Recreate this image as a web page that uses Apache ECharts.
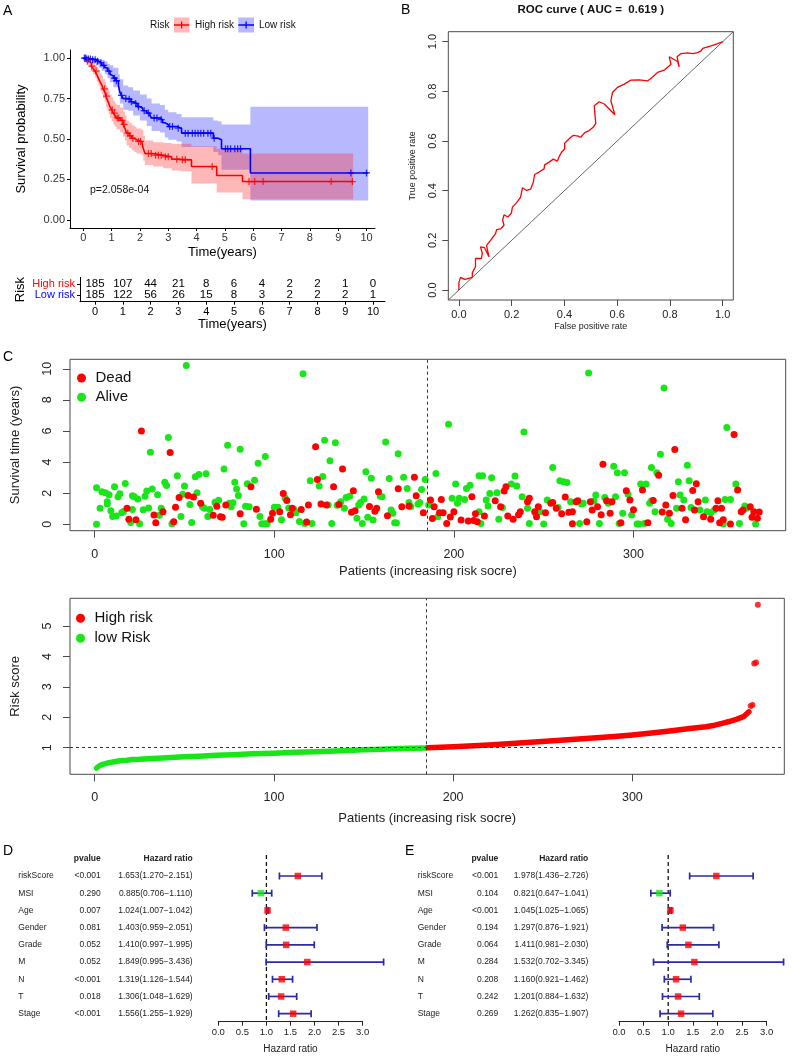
<!DOCTYPE html>
<html><head><meta charset="utf-8">
<script src="https://cdn.jsdelivr.net/npm/echarts@6/dist/echarts.min.js"></script>
<style>html,body{margin:0;padding:0;background:#fff}#c{width:793px;height:1059px}</style>
</head><body><div id="c"></div>
<script>
// ---------------- DATA ----------------
// Panel A: Kaplan-Meier steps [time, survival]
const kmLowSteps = [[0,1],[0.1,0.995],[0.3,0.99],[0.45,0.98],[0.55,0.97],[0.65,0.955],[0.76,0.94],[0.85,0.92],[0.94,0.90],[1.0,0.89],[1.06,0.876],[1.15,0.86],[1.24,0.83],[1.29,0.79],[1.35,0.77],[1.41,0.75],[1.59,0.746],[1.68,0.73],[1.76,0.72],[1.9,0.70],[2.0,0.69],[2.1,0.675],[2.24,0.66],[2.35,0.645],[2.41,0.63],[2.71,0.62],[2.8,0.60],[2.88,0.59],[3.0,0.577],[3.29,0.567],[3.47,0.536],[4.59,0.505],[4.76,0.495],[4.88,0.44],[5.9,0.29],[10.06,0.29]];
const kmHighSteps = [[0,1],[0.06,0.99],[0.12,0.98],[0.2,0.97],[0.28,0.95],[0.35,0.935],[0.41,0.92],[0.47,0.9],[0.53,0.876],[0.59,0.855],[0.65,0.835],[0.7,0.81],[0.76,0.79],[0.8,0.765],[0.85,0.74],[0.9,0.72],[0.94,0.70],[1.0,0.68],[1.06,0.66],[1.12,0.645],[1.18,0.63],[1.3,0.615],[1.4,0.59],[1.47,0.567],[1.53,0.536],[1.62,0.52],[1.71,0.505],[1.8,0.495],[1.88,0.485],[2.06,0.474],[2.12,0.44],[2.18,0.41],[2.47,0.40],[2.82,0.39],[3.12,0.375],[3.41,0.371],[3.82,0.33],[4.71,0.274],[5.62,0.237],[9.53,0.237]];
// confidence bands [time, lower, upper]
const kmLowBand = [[0,1,1],[0.1,0.985,1],[0.3,0.97,1],[0.45,0.955,1],[0.55,0.94,0.995],[0.65,0.92,0.99],[0.76,0.9,0.98],[0.85,0.875,0.965],[0.94,0.85,0.955],[1.06,0.82,0.94],[1.24,0.77,0.9],[1.29,0.72,0.87],[1.41,0.68,0.83],[1.59,0.675,0.82],[1.76,0.645,0.8],[2.0,0.615,0.775],[2.24,0.58,0.75],[2.41,0.55,0.72],[2.71,0.54,0.71],[2.88,0.51,0.68],[3.0,0.495,0.665],[3.29,0.485,0.655],[3.47,0.45,0.635],[4.59,0.42,0.615],[4.76,0.40,0.61],[4.88,0.31,0.59],[5.9,0.12,0.70],[10.06,0.12,0.70]];
const kmHighBand = [[0,1,1],[0.06,0.975,1],[0.12,0.96,0.995],[0.2,0.945,0.99],[0.28,0.92,0.98],[0.35,0.9,0.97],[0.41,0.88,0.96],[0.47,0.855,0.945],[0.53,0.83,0.925],[0.59,0.8,0.905],[0.65,0.78,0.89],[0.7,0.75,0.87],[0.76,0.73,0.85],[0.8,0.7,0.83],[0.85,0.675,0.81],[0.9,0.655,0.79],[0.94,0.63,0.775],[1.0,0.61,0.755],[1.06,0.59,0.735],[1.12,0.575,0.72],[1.18,0.56,0.71],[1.3,0.54,0.695],[1.4,0.515,0.67],[1.47,0.49,0.645],[1.53,0.46,0.615],[1.62,0.445,0.6],[1.71,0.43,0.585],[1.8,0.42,0.575],[1.88,0.41,0.565],[2.06,0.4,0.555],[2.12,0.365,0.52],[2.18,0.34,0.49],[2.47,0.33,0.48],[2.82,0.32,0.475],[3.12,0.305,0.47],[3.41,0.30,0.47],[3.82,0.225,0.455],[4.71,0.17,0.44],[5.62,0.128,0.41],[9.53,0.128,0.41]];
const kmLowCensor = [0.04,0.08,0.12,0.18,0.25,0.33,0.42,0.5,0.62,0.72,0.9,1.1,1.17,1.35,1.5,1.62,1.7,1.85,1.95,2.15,2.3,2.5,2.6,2.75,3.05,3.15,3.35,3.6,3.7,3.85,3.95,4.05,4.15,4.25,4.4,4.5,4.62,5.02,5.1,5.2,5.35,5.45,5.55,9.45,10.0];
const kmHighCensor = [0.15,0.3,0.45,0.75,0.82,1.02,1.1,1.2,1.25,1.37,1.44,1.57,1.65,1.75,1.95,2.02,2.3,2.4,2.55,2.65,2.75,2.9,3.0,3.3,3.5,3.6,4.55,5.85,6.05,6.35,8.75,9.5];
const kmPValue = 'p=2.058e-04';
const timeTicks = [0,1,2,3,4,5,6,7,8,9,10];
const atRiskHigh = [185,107,44,21,8,6,4,2,2,1,0];
const atRiskLow  = [185,122,56,26,15,8,3,2,2,2,1];
const survTicks = [0,0.25,0.5,0.75,1];

// Panel B: ROC curve points [FPR, TPR]
const rocAUC = '0.619';
const rocPoints = [[0,0],[0,0.029],[0.006,0.051],[0.022,0.043],[0.025,0.051],[0.051,0.051],[0.051,0.07],[0.063,0.094],[0.063,0.127],[0.085,0.127],[0.089,0.147],[0.082,0.174],[0.097,0.171],[0.114,0.134],[0.105,0.18],[0.12,0.2],[0.139,0.227],[0.143,0.243],[0.158,0.246],[0.171,0.261],[0.166,0.281],[0.171,0.303],[0.186,0.294],[0.199,0.31],[0.203,0.334],[0.219,0.352],[0.234,0.374],[0.241,0.412],[0.257,0.401],[0.272,0.406],[0.282,0.434],[0.287,0.465],[0.304,0.475],[0.323,0.488],[0.325,0.504],[0.342,0.515],[0.358,0.527],[0.373,0.519],[0.38,0.537],[0.389,0.555],[0.401,0.568],[0.401,0.591],[0.42,0.611],[0.434,0.623],[0.452,0.62],[0.462,0.615],[0.477,0.634],[0.494,0.642],[0.509,0.655],[0.519,0.671],[0.516,0.702],[0.513,0.742],[0.532,0.758],[0.551,0.749],[0.591,0.706],[0.576,0.762],[0.582,0.795],[0.601,0.816],[0.627,0.829],[0.652,0.845],[0.684,0.846],[0.715,0.842],[0.734,0.858],[0.753,0.876],[0.778,0.885],[0.804,0.909],[0.797,0.939],[0.829,0.92],[0.835,0.898],[0.827,0.939],[0.842,0.952],[0.867,0.955],[0.886,0.952],[0.905,0.956],[0.918,0.963],[0.924,0.973],[0.956,0.983],[0.981,0.992],[1,1]];
const unitTicks = [0,0.2,0.4,0.6,0.8,1];

// Panel C (top): [patient index, survival time (years)]
const deadPts = [[18,1.03],[19,0.32],[23,0.3],[26,6.0],[33,0.6],[34,0.11],[38,0.81],[42,4.62],[44,0.17],[45,1.1],[47,1.73],[52,1.86],[55,1.75],[59,1.35],[66,0.58],[68,1.16],[70,0.49],[71,0.45],[73,1.24],[81,0.68],[87,2.41],[90,0.97],[98,0.33],[99,0.72],[103,0.81],[105,1.99],[107,1.54],[109,0.62],[110,1.03],[115,0.95],[118,0.15],[119,1.24],[123,4.98],[124,2.88],[126,1.3],[129,1.24],[133,2.41],[136,1.27],[138,3.55],[143,0.77],[144,2.16],[145,0.88],[153,1.15],[156,0.85],[157,1.03],[158,2.09],[163,0.55],[169,2.29],[171,1.13],[175,1.18],[178,3.03],[179,1.84],[183,0.75],[187,1.56],[188,0.38],[189,1.13],[192,0.75],[193,1.6],[194,0.75],[196,0.06],[198,0.47],[200,0.81],[204,0.28],[208,0.22],[210,1.77],[211,0.24],[212,0.68],[213,0.17],[217,0.53],[223,1.52],[226,1.13],[228,2.14],[229,2.41],[230,0.53],[233,0.32],[236,0.62],[237,0.81],[241,1.45],[242,1.67],[245,0.81],[246,0.49],[247,1.13],[251,0.75],[254,1.35],[255,1.4],[257,1.03],[260,0.68],[262,1.75],[264,0.77],[266,0.81],[266,0.04],[268,1.45],[269,1.52],[274,0.17],[276,1.45],[277,0.92],[280,1.13],[282,0.62],[283,3.86],[285,1.52],[287,0.71],[288,1.45],[293,0.11],[296,2.16],[298,1.56],[300,0.94],[305,2.2],[308,0.11],[311,1.54],[314,3.16],[316,0.79],[318,1.24],[320,0.71],[322,1.86],[323,4.81],[327,1.03],[329,0.3],[333,2.18],[334,0.92],[335,2.61],[336,1.45],[339,0.49],[343,0.32],[346,1.03],[347,1.52],[348,0.11],[349,1.03],[350,0.3],[354,0.02],[356,5.77],[358,2.2],[360,0.81],[361,0.92],[365,1.13],[366,0.45],[367,0.81],[369,0.4],[370,0.79]];
const alivePts = [[1,0.0],[1,2.35],[3,1.03],[4,2.09],[6,2.03],[7,1.3],[7,1.45],[8,1.9],[9,0.88],[10,0.51],[11,2.41],[12,0.53],[13,1.77],[14,1.97],[15,0.75],[16,0.83],[17,2.63],[20,0.12],[21,0.96],[21,1.84],[22,1.77],[24,1.63],[25,0.04],[27,0.94],[28,1.8],[29,2.15],[30,1.05],[31,4.64],[32,2.27],[35,1.9],[36,0.58],[37,1.03],[39,2.71],[40,2.5],[41,5.58],[43,0.04],[46,3.12],[48,0.51],[49,1.94],[50,2.47],[51,10.21],[53,1.28],[54,0.12],[56,3.06],[57,2.03],[58,3.2],[60,1.13],[61,1.03],[62,3.25],[63,0.5],[64,0.96],[67,1.42],[69,1.55],[72,3.55],[74,5.09],[75,1.35],[76,1.13],[77,1.39],[78,2.7],[79,2.27],[80,1.86],[81,4.82],[83,0.04],[84,1.16],[85,2.61],[86,1.13],[89,2.84],[91,3.93],[92,0.51],[93,0.04],[95,4.36],[95,0.04],[96,0.04],[100,1.1],[102,1.1],[104,0.3],[106,1.7],[108,1.05],[111,0.96],[112,0.75],[114,0.18],[116,9.68],[117,0.06],[120,2.8],[121,0.06],[125,2.46],[127,3.08],[128,5.41],[130,1.24],[131,4.08],[132,0.06],[134,5.25],[135,1.22],[137,1.45],[139,1.03],[140,1.72],[142,1.8],[146,0.4],[147,1.24],[148,1.4],[149,0.06],[150,1.63],[151,3.38],[152,0.45],[154,2.97],[155,0.28],[159,1.8],[160,1.77],[162,5.3],[164,2.95],[165,0.92],[166,0.71],[167,0.11],[168,0.09],[169,4.53],[172,3.03],[174,2.31],[175,1.41],[176,1.13],[180,1.3],[181,1.41],[182,2.24],[184,2.88],[186,1.24],[190,3.27],[191,0.49],[197,6.43],[199,1.67],[201,2.59],[202,1.35],[203,1.67],[206,1.6],[207,2.31],[209,2.52],[214,0.81],[214,3.12],[215,0.06],[216,3.12],[218,1.56],[219,1.18],[220,1.99],[221,2.99],[224,2.03],[225,0.32],[227,1.09],[232,2.59],[234,3.1],[235,2.46],[238,1.77],[239,5.94],[241,1.03],[242,0.06],[248,0.81],[250,0.02],[252,1.56],[255,3.65],[258,1.09],[259,2.8],[261,2.74],[263,2.69],[265,1.45],[270,0.06],[271,1.3],[272,1.35],[275,9.72],[278,1.5],[279,1.88],[281,0.06],[284,1.73],[286,1.35],[289,3.74],[290,1.77],[291,3.31],[292,0.06],[294,0.71],[295,3.31],[297,1.94],[299,0.6],[302,0.02],[303,0.02],[304,2.59],[306,0.06],[307,2.59],[309,1.35],[310,3.65],[310,1.52],[312,0.81],[313,3.31],[315,4.51],[317,8.76],[319,0.32],[321,0.06],[324,1.03],[325,2.74],[326,1.88],[328,1.56],[330,3.8],[331,2.8],[332,1.09],[337,0.92],[340,1.56],[341,0.81],[343,0.75],[345,0.92],[350,0.02],[351,1.6],[352,6.22],[354,1.6],[357,2.59],[359,0.06],[362,1.18],[363,1.03],[368,0.02]];
const patientTicks = [0,100,200,300];
const survTimeTicks = [0,2,4,6,8,10];

// Panel C (bottom): risk score by patient index
const lowRiskCurve = [[1,0.33],[2,0.38],[3,0.42],[5,0.46],[8,0.51],[11,0.54],[14,0.57],[18,0.59],[21,0.61],[25,0.62],[30,0.64],[40,0.67],[50,0.70],[58,0.72],[68,0.75],[77,0.77],[88,0.80],[100,0.82],[112,0.85],[123,0.87],[135,0.89],[150,0.93],[160,0.95],[170,0.97],[178,0.98],[185,0.99]];
const highRiskCurve = [[186,1.0],[200,1.03],[220,1.09],[239,1.16],[258,1.24],[276,1.31],[290,1.37],[300,1.42],[312,1.49],[322,1.56],[332,1.63],[341,1.69],[346,1.74],[350,1.80],[354,1.86],[358,1.93],[362,2.02],[363,2.08],[365,2.18]];
const highRiskTail = [[366,2.37],[367,2.40],[368,3.77],[369,3.80],[370,5.70]];
const riskCutIndex = 185;
const riskCutScore = 1;
const riskTicks = [1,2,3,4,5];

// Panels D/E: forest plots
const forestVars = ['riskScore','MSI','Age','Gender','Grade','M','N','T','Stage'];
const uniP    = ['<0.001','0.290','0.007','0.081','0.052','0.052','<0.001','0.018','<0.001'];
const uniHR   = [1.653,0.885,1.024,1.403,1.410,1.849,1.319,1.306,1.556];
const uniLow  = [1.270,0.706,1.007,0.959,0.997,0.995,1.126,1.048,1.255];
const uniHigh = [2.151,1.110,1.042,2.051,1.995,3.436,1.544,1.629,1.929];
const multiP    = ['<0.001','0.104','<0.001','0.194','0.064','0.284','0.208','0.242','0.269'];
const multiHR   = [1.978,0.821,1.045,1.297,1.411,1.532,1.160,1.201,1.262];
const multiLow  = [1.436,0.647,1.025,0.876,0.981,0.702,0.921,0.884,0.835];
const multiHigh = [2.726,1.041,1.065,1.921,2.030,3.345,1.462,1.632,1.907];

// ---------------- STYLE ----------------
const FONT = '"Liberation Sans", Arial, Helvetica, sans-serif';
const RED = '#ff0000', BLUE = '#0000ff', GREEN = '#19e619', EBAR = '#2b2ba6', BOX = '#4a4a4a';

function stepAt(steps, t) { let s = steps[0][1]; for (const p of steps) { if (p[0] <= t) s = p[1]; else break; } return s; }

function bandSeries(band, fill) {
  return {
    type: 'custom', xAxisIndex: 0, yAxisIndex: 0, silent: true, z: 1, data: [[0, 0]],
    renderItem: function (params, api) {
      const up = [], lo = [];
      for (let i = 0; i < band.length - 1; i++) {
        const t0 = band[i][0], t1 = band[i + 1][0];
        up.push(api.coord([t0, band[i][2]]), api.coord([t1, band[i][2]]));
        lo.push(api.coord([t0, band[i][1]]), api.coord([t1, band[i][1]]));
      }
      return { type: 'polygon', shape: { points: up.concat(lo.reverse()) }, style: { fill: fill } };
    }
  };
}

const PLUS = 'path://M-1,-0.18L1,-0.18L1,0.18L-1,0.18Z M-0.18,-1L0.18,-1L0.18,1L-0.18,1Z';

function hiddenAxis(gi, min, max, inverse) {
  return { type: 'value', gridIndex: gi, min: min, max: max, show: false, inverse: !!inverse, splitLine: { show: false } };
}

function boxAxisX(gi, min, max, ticks, fmt, fs, margin, tickLen, name, nameGap, nameFs) {
  return {
    type: 'value', gridIndex: gi, min: min, max: max, splitLine: { show: false },
    axisLine: { show: false, onZero: false },
    axisTick: { show: true, customValues: ticks, length: tickLen, lineStyle: { color: BOX, width: 1 } },
    axisLabel: { customValues: ticks, formatter: fmt, fontSize: fs, color: '#222', margin: margin, fontFamily: FONT },
    name: name, nameLocation: 'middle', nameGap: nameGap, nameTextStyle: { fontSize: nameFs, color: '#222', fontFamily: FONT }
  };
}
function boxAxisY(gi, min, max, ticks, fmt, fs, margin, tickLen, name, nameGap, nameFs) {
  const a = boxAxisX(gi, min, max, ticks, fmt, fs, margin, tickLen, name, nameGap, nameFs);
  a.axisLabel.rotate = 90;
  a.nameRotate = 90;
  return a;
}

function forestAxis(gi) {
  return {
    type: 'value', gridIndex: gi, min: 0, max: 3, interval: 0.5, splitLine: { show: false },
    axisLine: { show: true, onZero: false, lineStyle: { color: '#222', width: 1 } },
    axisTick: { show: true, length: 4, lineStyle: { color: '#222' } },
    axisLabel: { formatter: v => v.toFixed(1), fontSize: 9.5, color: '#222', margin: 5.5, fontFamily: FONT, showMinLabel: true, showMaxLabel: true },
    name: 'Hazard ratio', nameLocation: 'middle', nameGap: 23, nameTextStyle: { fontSize: 10, color: '#222', fontFamily: FONT }
  };
}

function forestSeries(gData, gText, pv, hr, lo, hi) {
  const rows = forestVars.map((v, i) => [i, lo[i], hi[i]]);
  return [
    { type: 'line', xAxisIndex: gData, yAxisIndex: gData, data: [[1, -1.22], [1, 8.37]], showSymbol: false, silent: true,
      lineStyle: { color: '#111', width: 1.3, type: [4, 3] }, z: 2 },
    { type: 'custom', xAxisIndex: gData, yAxisIndex: gData, data: rows, silent: true, z: 3,
      renderItem: function (params, api) {
        const r = api.value(0);
        const a = api.coord([api.value(1), r]), b = api.coord([api.value(2), r]);
        const h = 3.5, st = { stroke: EBAR, lineWidth: 1.7 };
        return { type: 'group', children: [
          { type: 'line', shape: { x1: a[0], y1: a[1], x2: b[0], y2: b[1] }, style: st },
          { type: 'line', shape: { x1: a[0], y1: a[1] - h, x2: a[0], y2: a[1] + h }, style: st },
          { type: 'line', shape: { x1: b[0], y1: b[1] - h, x2: b[0], y2: b[1] + h }, style: st }
        ] };
      } },
    { type: 'scatter', xAxisIndex: gData, yAxisIndex: gData, symbol: 'rect', symbolSize: 6.5, silent: true, z: 4,
      data: hr.map((h, i) => ({ value: [h, i], itemStyle: { color: h < 1 ? GREEN : RED } })) },
    { type: 'custom', xAxisIndex: gText, yAxisIndex: gText, silent: true,
      data: [[-1]].concat(forestVars.map((v, i) => [i])),
      renderItem: function (params, api) {
        const r = api.value(0);
        const p0 = api.coord([0, r]), p1 = api.coord([0.945, r]), p2 = api.coord([2, r]);
        const base = { fontSize: 8.5, fontFamily: FONT, verticalAlign: 'middle', fill: '#222' };
        if (r < 0) {
          return { type: 'group', children: [
            { type: 'text', x: p1[0], y: p1[1], style: Object.assign({}, base, { text: 'pvalue', align: 'right', fontWeight: 'bold' }) },
            { type: 'text', x: p2[0], y: p2[1], style: Object.assign({}, base, { text: 'Hazard ratio', align: 'right', fontWeight: 'bold' }) }
          ] };
        }
        const hrText = hr[r].toFixed(3) + '(' + lo[r].toFixed(3) + '\u2212' + hi[r].toFixed(3) + ')';
        return { type: 'group', children: [
          { type: 'text', x: p0[0], y: p0[1], style: Object.assign({}, base, { text: forestVars[r], align: 'left' }) },
          { type: 'text', x: p1[0], y: p1[1], style: Object.assign({}, base, { text: pv[r], align: 'right' }) },
          { type: 'text', x: p2[0], y: p2[1], style: Object.assign({}, base, { text: hrText, align: 'right' }) }
        ] };
      } }
  ];
}

// ---------------- OPTION ----------------
const gridBase = { outerBoundsMode: 'none', containLabel: false };
const grids = [
  { left: 70, top: 50, width: 305, height: 178 },
  { left: 80, top: 277.4, width: 305, height: 24.3 },
  { left: 448.3, top: 31.7, width: 285, height: 268.3, show: true, borderColor: BOX, borderWidth: 1, backgroundColor: 'transparent' },
  { left: 70, top: 359.3, width: 715.7, height: 171.4, show: true, borderColor: BOX, borderWidth: 1, backgroundColor: 'transparent' },
  { left: 70, top: 598.3, width: 714.3, height: 176, show: true, borderColor: BOX, borderWidth: 1, backgroundColor: 'transparent' },
  { left: 218.3, top: 853.6, width: 168.4, height: 168.7 },
  { left: 218.3, top: 1000, width: 144.3, height: 21.7 },
  { left: 18.3, top: 853.6, width: 174.4, height: 168.7 },
  { left: 619, top: 853.6, width: 172.2, height: 168.7 },
  { left: 619, top: 1000, width: 147.6, height: 21.7 },
  { left: 417.7, top: 853.6, width: 170.6, height: 168.7 }
].map(g => Object.assign({}, gridBase, g));

const kmX = {
  type: 'value', gridIndex: 0, min: -0.47, max: 10.3, splitLine: { show: false },
  axisLine: { show: true, onZero: false, lineStyle: { color: '#000', width: 1 } },
  axisTick: { show: true, customValues: timeTicks, length: 3, lineStyle: { color: '#000' } },
  axisLabel: { customValues: timeTicks, fontSize: 11, color: '#333', margin: 4.5, fontFamily: FONT },
  name: 'Time(years)', nameLocation: 'middle', nameGap: 18, nameTextStyle: { fontSize: 13, color: '#000', fontFamily: FONT }
};
const kmY = {
  type: 'value', gridIndex: 0, min: -0.05, max: 1.05, splitLine: { show: false },
  axisLine: { show: true, onZero: false, lineStyle: { color: '#000', width: 1 } },
  axisTick: { show: true, customValues: survTicks, length: 3, lineStyle: { color: '#000' } },
  axisLabel: { customValues: survTicks, formatter: v => v.toFixed(2), fontSize: 11, color: '#333', margin: 5, fontFamily: FONT },
  name: 'Survival probability', nameLocation: 'middle', nameRotate: 90, nameGap: 42, nameTextStyle: { fontSize: 13, color: '#000', fontFamily: FONT }
};
const tabX = Object.assign({}, kmX, { gridIndex: 1, min: -0.54, max: 10.43,
  axisLabel: { customValues: timeTicks, fontSize: 11, color: '#000', margin: 4.5, fontFamily: FONT }, nameGap: 16.5 });
const tabY = {
  type: 'value', gridIndex: 1, min: 0.4, max: 2.6, splitLine: { show: false },
  axisLine: { show: true, onZero: false, lineStyle: { color: '#000', width: 1 } },
  axisTick: { show: true, customValues: [1, 2], length: 3, lineStyle: { color: '#000' } },
  axisLabel: { customValues: [1, 2], margin: 5, fontFamily: FONT,
    formatter: v => v === 2 ? '{h|High risk}' : '{l|Low risk}',
    rich: { h: { color: RED, fontSize: 11, fontFamily: FONT }, l: { color: BLUE, fontSize: 11, fontFamily: FONT } } },
  name: 'Risk', nameLocation: 'middle', nameRotate: 90, nameGap: 53, nameTextStyle: { fontSize: 13, color: '#000', fontFamily: FONT }
};

const tableData = [];
timeTicks.forEach((t, i) => { tableData.push([t, 2, atRiskHigh[i]]); tableData.push([t, 1, atRiskLow[i]]); });

const fmt1 = v => v.toFixed(1);
const fmt0 = v => String(v);

const xAxes = [
  kmX, tabX,
  boxAxisX(2, -0.04, 1.04, unitTicks, fmt1, 11, 9, 6, 'False positive rate', 22, 9),
  boxAxisX(3, -13.76, 384.76, patientTicks, fmt0, 12.5, 17, 7, 'Patients (increasing risk socre)', 34, 13),
  boxAxisX(4, -13.76, 384.76, patientTicks, fmt0, 12.5, 17, 7, 'Patients (increasing risk socre)', 38, 13),
  hiddenAxis(5, 0, 3.5), forestAxis(6), hiddenAxis(7, 0, 2),
  hiddenAxis(8, 0, 3.5), forestAxis(9), hiddenAxis(10, 0, 2)
];
const yAxes = [
  kmY, tabY,
  boxAxisY(2, -0.04, 1.04, unitTicks, fmt1, 11, 10, 6, 'True positive rate', 31, 9),
  boxAxisY(3, -0.408, 10.608, survTimeTicks, fmt0, 12.5, 16, 7, 'Survival time (years)', 48, 13),
  boxAxisY(4, 0.126, 5.91, riskTicks, fmt0, 12.5, 16, 7, 'Risk score', 48, 13),
  hiddenAxis(5, -1.3, 8.5, true), hiddenAxis(6, 0, 1), hiddenAxis(7, -1.3, 8.5, true),
  hiddenAxis(8, -1.3, 8.5, true), hiddenAxis(9, 0, 1), hiddenAxis(10, -1.3, 8.5, true)
];

const dashLine = { color: '#333', width: 1, type: [3, 3] };

const series = [
  bandSeries(kmLowBand, 'rgba(40,40,255,0.33)'),
  bandSeries(kmHighBand, 'rgba(255,40,40,0.33)'),
  { name: 'kmLow', type: 'line', step: 'end', xAxisIndex: 0, yAxisIndex: 0, data: kmLowSteps, showSymbol: false, silent: true, z: 3,
    lineStyle: { color: BLUE, width: 1.6 }, itemStyle: { color: BLUE } },
  { name: 'kmHigh', type: 'line', step: 'end', xAxisIndex: 0, yAxisIndex: 0, data: kmHighSteps, showSymbol: false, silent: true, z: 3,
    lineStyle: { color: RED, width: 1.6 }, itemStyle: { color: RED } },
  { name: 'kmLowC', type: 'scatter', xAxisIndex: 0, yAxisIndex: 0, symbol: PLUS, symbolSize: 7, silent: true, z: 4,
    itemStyle: { color: BLUE }, data: kmLowCensor.map(t => [t, stepAt(kmLowSteps, t)]) },
  { name: 'kmHighC', type: 'scatter', xAxisIndex: 0, yAxisIndex: 0, symbol: PLUS, symbolSize: 7, silent: true, z: 4,
    itemStyle: { color: RED }, data: kmHighCensor.map(t => [t, stepAt(kmHighSteps, t)]) },
  { type: 'custom', xAxisIndex: 1, yAxisIndex: 1, silent: true, data: tableData,
    renderItem: function (params, api) {
      const p = api.coord([api.value(0), api.value(1)]);
      return { type: 'text', x: p[0], y: p[1], style: { text: String(api.value(2)), fill: '#000', fontSize: 11.5, fontFamily: FONT, align: 'center', verticalAlign: 'middle' } };
    } },
  { type: 'line', xAxisIndex: 2, yAxisIndex: 2, data: [[-0.04, -0.04], [1.04, 1.04]], showSymbol: false, silent: true,
    lineStyle: { color: '#555', width: 0.9 } },
  { type: 'line', xAxisIndex: 2, yAxisIndex: 2, data: rocPoints, showSymbol: false, silent: true, z: 3,
    lineStyle: { color: RED, width: 1.3 } },
  { name: 'Alive', type: 'scatter', xAxisIndex: 3, yAxisIndex: 3, data: alivePts, symbolSize: 7, silent: true,
    itemStyle: { color: GREEN, opacity: 1 } },
  { name: 'Dead', type: 'scatter', xAxisIndex: 3, yAxisIndex: 3, data: deadPts, symbolSize: 7, silent: true,
    itemStyle: { color: RED, opacity: 1 },
    markLine: { silent: true, symbol: 'none', label: { show: false }, lineStyle: dashLine, data: [{ xAxis: riskCutIndex }] } },
  { name: 'low Risk', type: 'line', xAxisIndex: 4, yAxisIndex: 4, data: lowRiskCurve, showSymbol: false, silent: true,
    lineStyle: { color: GREEN, width: 5.5, cap: 'round', join: 'round' }, itemStyle: { color: GREEN },
    markLine: { silent: true, symbol: 'none', label: { show: false }, lineStyle: dashLine, data: [{ xAxis: riskCutIndex }, { yAxis: riskCutScore }] } },
  { name: 'High risk', type: 'line', xAxisIndex: 4, yAxisIndex: 4, data: highRiskCurve, showSymbol: false, silent: true,
    lineStyle: { color: RED, width: 5.5, cap: 'round', join: 'round' }, itemStyle: { color: RED } },
  { name: 'High risk', type: 'scatter', xAxisIndex: 4, yAxisIndex: 4, data: highRiskTail, symbolSize: 6, silent: true,
    itemStyle: { color: RED } },
  { type: 'scatter', xAxisIndex: 6, yAxisIndex: 6, data: [] },
  { type: 'scatter', xAxisIndex: 9, yAxisIndex: 9, data: [] }
].concat(forestSeries(5, 7, uniP, uniHR, uniLow, uniHigh))
 .concat(forestSeries(8, 10, multiP, multiHR, multiLow, multiHigh));

const legendText = { fontSize: 15, lineHeight: 15, color: '#111', fontFamily: FONT };
const option = {
  animation: false,
  backgroundColor: '#ffffff',
  textStyle: { fontFamily: FONT },
  grid: grids, xAxis: xAxes, yAxis: yAxes, series: series,
  legend: [
    { data: [{ name: 'Dead', itemStyle: { color: RED } }, { name: 'Alive', itemStyle: { color: GREEN } }], orient: 'vertical', left: 77, top: 370.5,
      itemWidth: 18, itemHeight: 9, itemGap: 4.3, icon: 'circle', selectedMode: false, padding: 0, textStyle: legendText },
    { data: [{ name: 'High risk', itemStyle: { color: RED } }, { name: 'low Risk', itemStyle: { color: GREEN } }], orient: 'vertical', left: 76, top: 610.8,
      itemWidth: 18, itemHeight: 9, itemGap: 5, icon: 'circle', selectedMode: false, padding: 0, textStyle: legendText }
  ],
  graphic: [
    { type: 'text', left: 3, top: 4, style: { text: 'A', fontSize: 14, fontFamily: FONT, fill: '#000' } },
    { type: 'text', left: 401, top: 3, style: { text: 'B', fontSize: 14, fontFamily: FONT, fill: '#000' } },
    { type: 'text', left: 3, top: 350, style: { text: 'C', fontSize: 14, fontFamily: FONT, fill: '#000' } },
    { type: 'text', left: 3, top: 844, style: { text: 'D', fontSize: 14, fontFamily: FONT, fill: '#000' } },
    { type: 'text', left: 405, top: 844, style: { text: 'E', fontSize: 14, fontFamily: FONT, fill: '#000' } },
    { type: 'text', x: 590.8, y: 10, style: { text: 'ROC curve ( AUC =  ' + rocAUC + ' )', fontSize: 11.5, fontWeight: 'bold', fontFamily: FONT, fill: '#111', align: 'center', verticalAlign: 'middle' } },
    { type: 'text', x: 90, y: 190, style: { text: kmPValue, fontSize: 10.5, fontFamily: FONT, fill: '#111', align: 'left', verticalAlign: 'middle' } },
    { type: 'group', children: [
      { type: 'text', x: 150, y: 25, style: { text: 'Risk', fontSize: 10, fontFamily: FONT, fill: '#111', align: 'left', verticalAlign: 'middle' } },
      { type: 'rect', shape: { x: 174, y: 17.5, width: 15.3, height: 15 }, style: { fill: 'rgba(255,40,40,0.33)' } },
      { type: 'line', shape: { x1: 174, y1: 25, x2: 189.3, y2: 25 }, style: { stroke: RED, lineWidth: 1.5 } },
      { type: 'line', shape: { x1: 181.6, y1: 21.5, x2: 181.6, y2: 28.5 }, style: { stroke: RED, lineWidth: 1.3 } },
      { type: 'text', x: 195, y: 25, style: { text: 'High risk', fontSize: 10, fontFamily: FONT, fill: '#111', align: 'left', verticalAlign: 'middle' } },
      { type: 'rect', shape: { x: 238.3, y: 17.5, width: 15.7, height: 15 }, style: { fill: 'rgba(40,40,255,0.33)' } },
      { type: 'line', shape: { x1: 238.3, y1: 25, x2: 254, y2: 25 }, style: { stroke: BLUE, lineWidth: 1.5 } },
      { type: 'line', shape: { x1: 246.1, y1: 21.5, x2: 246.1, y2: 28.5 }, style: { stroke: BLUE, lineWidth: 1.3 } },
      { type: 'text', x: 259, y: 25, style: { text: 'Low risk', fontSize: 10, fontFamily: FONT, fill: '#111', align: 'left', verticalAlign: 'middle' } }
    ] }
  ]
};

const chart = echarts.init(document.getElementById('c'), null, { renderer: 'canvas', width: 793, height: 1059 });
chart.setOption(option);
</script></body></html>
